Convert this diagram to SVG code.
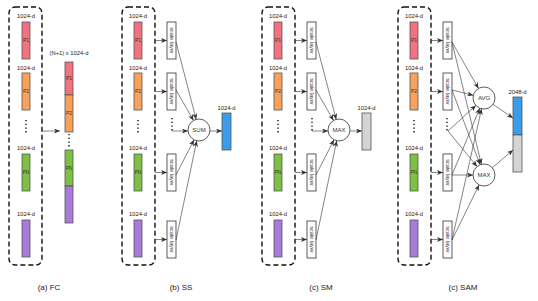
<svg xmlns="http://www.w3.org/2000/svg" width="538" height="301" viewBox="0 0 538 301">
<style>
.box{fill:none;stroke:#111;stroke-width:1.4;stroke-dasharray:5,3}
.bar{stroke:#555;stroke-width:0.8}
.p1{fill:#F2727F}.p2{fill:#F9A15A}.pn{fill:#7CC143}.pu{fill:#A97BD9}.bl{fill:#3B9CEB}.gr{fill:#D4D4D4}
.lab{font-family:"Liberation Sans",Arial,sans-serif;font-size:5.8px;fill:#222;text-anchor:middle}
.in{font-family:"Liberation Sans",Arial,sans-serif;font-size:5px;fill:#333;text-anchor:middle}
.cap{font-family:"Liberation Sans",Arial,sans-serif;font-size:8px;fill:#222;text-anchor:middle}
.sl{fill:#fff;stroke:#333;stroke-width:0.8}
.slt{font-family:"Liberation Sans",Arial,sans-serif;font-size:5.6px;fill:#333;text-anchor:middle}
.op{fill:#fff;stroke:#333;stroke-width:0.8}
.opt{font-family:"Liberation Sans",Arial,sans-serif;font-size:6px;fill:#333;text-anchor:middle}
.dots{stroke:#111;stroke-width:1.4;stroke-dasharray:1.3,2.4;fill:none}
.c{stroke:#333;stroke-width:0.6;fill:none;marker-end:url(#ah)}
</style>
<defs>
<marker id="ah" markerUnits="userSpaceOnUse" markerWidth="6" markerHeight="5" refX="6" refY="2.5" orient="auto">
<path d="M0,0 L6,2.5 L0,5 L1.6,2.5 z" fill="#333"/>
</marker>
</defs>

<!-- Panel (a) FC -->
<g id="fc-inputs">
<rect class="box" x="9" y="7" width="33" height="258" rx="6"/>
<text class="lab" x="26" y="18">1024-d</text>
<rect class="bar p1" x="22" y="22" width="8" height="37"/>
<text class="in" x="26" y="42">P1</text>
<text class="lab" x="26" y="70">1024-d</text>
<rect class="bar p2" x="22" y="73" width="8" height="37"/>
<text class="in" x="26" y="93">P2</text>
<line class="dots" x1="26" y1="120" x2="26" y2="134"/>
<text class="lab" x="26" y="150">1024-d</text>
<rect class="bar pn" x="22" y="154" width="8" height="37"/>
<text class="in" x="26" y="174">PN</text>
<text class="lab" x="26" y="216">1024-d</text>
<rect class="bar pu" x="22" y="220" width="8" height="37"/>
</g>
<g id="fc-concat">
<text class="lab" x="69" y="55">(N+1) x 1024-d</text>
<rect class="bar p1" x="65" y="62" width="8" height="33"/>
<text class="in" x="69" y="80">P1</text>
<rect class="bar p2" x="65" y="95" width="8" height="37"/>
<text class="in" x="69" y="115">P2</text>
<line class="dots" x1="69" y1="134" x2="69" y2="148"/>
<rect class="bar pn" x="65" y="150" width="8" height="36"/>
<text class="in" x="69" y="170">PN</text>
<rect class="bar pu" x="65" y="186" width="8" height="37"/>
</g>
<text class="cap" x="49" y="290">(a) FC</text>

<!-- Panel (b) SS -->
<g id="ss-inputs">
<rect class="box" x="122" y="7" width="33" height="258" rx="6"/>
<text class="lab" x="138" y="18">1024-d</text>
<rect class="bar p1" x="134" y="22" width="8" height="37"/>
<text class="in" x="138" y="42">P1</text>
<text class="lab" x="138" y="70">1024-d</text>
<rect class="bar p2" x="134" y="73" width="8" height="37"/>
<text class="in" x="138" y="93">P2</text>
<line class="dots" x1="138" y1="120" x2="138" y2="134"/>
<text class="lab" x="138" y="150">1024-d</text>
<rect class="bar pn" x="134" y="154" width="8" height="37"/>
<text class="in" x="138" y="174">PN</text>
<text class="lab" x="138" y="216">1024-d</text>
<rect class="bar pu" x="134" y="220" width="8" height="37"/>
</g>
<g id="ss-scale">
<rect class="sl" x="167" y="22" width="9" height="37"/>
<text class="slt" transform="translate(171.5,40.5) rotate(90)" y="2">scale layer</text>
<rect class="sl" x="167" y="73" width="9" height="37"/>
<text class="slt" transform="translate(171.5,91.5) rotate(90)" y="2">scale layer</text>
<line class="dots" x1="172" y1="118" x2="172" y2="131"/>
<rect class="sl" x="167" y="154" width="9" height="37"/>
<text class="slt" transform="translate(171.5,172.5) rotate(90)" y="2">scale layer</text>
<rect class="sl" x="167" y="221" width="9" height="37"/>
<text class="slt" transform="translate(171.5,239.5) rotate(90)" y="2">scale layer</text>
</g>
<g id="ss-sum">
<circle class="op" cx="199" cy="130" r="11"/>
<text class="opt" x="199" y="132.2">SUM</text>
</g>
<g id="ss-out">
<text class="lab" x="226.5" y="110">1024-d</text>
<rect class="bar bl" x="222" y="113" width="9" height="37"/>
</g>
<text class="cap" x="181" y="290">(b) SS</text>

<!-- Panel (c) SM -->
<g id="sm-inputs">
<rect class="box" x="262" y="7" width="33" height="258" rx="6"/>
<text class="lab" x="278" y="18">1024-d</text>
<rect class="bar p1" x="274" y="22" width="8" height="37"/>
<text class="in" x="278" y="42">P1</text>
<text class="lab" x="278" y="70">1024-d</text>
<rect class="bar p2" x="274" y="73" width="8" height="37"/>
<text class="in" x="278" y="93">P2</text>
<line class="dots" x1="278" y1="120" x2="278" y2="134"/>
<text class="lab" x="278" y="150">1024-d</text>
<rect class="bar pn" x="274" y="154" width="8" height="37"/>
<text class="in" x="278" y="174">PN</text>
<text class="lab" x="278" y="216">1024-d</text>
<rect class="bar pu" x="274" y="220" width="8" height="37"/>
</g>
<g id="sm-scale">
<rect class="sl" x="307" y="22" width="9" height="37"/>
<text class="slt" transform="translate(311.5,40.5) rotate(90)" y="2">scale layer</text>
<rect class="sl" x="307" y="73" width="9" height="37"/>
<text class="slt" transform="translate(311.5,91.5) rotate(90)" y="2">scale layer</text>
<line class="dots" x1="312" y1="118" x2="312" y2="131"/>
<rect class="sl" x="307" y="154" width="9" height="37"/>
<text class="slt" transform="translate(311.5,172.5) rotate(90)" y="2">scale layer</text>
<rect class="sl" x="307" y="221" width="9" height="37"/>
<text class="slt" transform="translate(311.5,239.5) rotate(90)" y="2">scale layer</text>
</g>
<g id="sm-max">
<circle class="op" cx="339" cy="130" r="11"/>
<text class="opt" x="339" y="132.2">MAX</text>
</g>
<g id="sm-out">
<text class="lab" x="366.5" y="110">1024-d</text>
<rect class="bar gr" x="362" y="113" width="9" height="37"/>
</g>
<text class="cap" x="321" y="290">(c) SM</text>

<!-- Panel (d) SAM -->
<g id="sam-inputs">
<rect class="box" x="398" y="7" width="33" height="258" rx="6"/>
<text class="lab" x="414" y="18">1024-d</text>
<rect class="bar p1" x="410" y="22" width="8" height="37"/>
<text class="in" x="414" y="42">P1</text>
<text class="lab" x="414" y="70">1024-d</text>
<rect class="bar p2" x="410" y="73" width="8" height="37"/>
<text class="in" x="414" y="93">P2</text>
<line class="dots" x1="414" y1="120" x2="414" y2="134"/>
<text class="lab" x="414" y="150">1024-d</text>
<rect class="bar pn" x="410" y="154" width="8" height="37"/>
<text class="in" x="414" y="174">PN</text>
<text class="lab" x="414" y="216">1024-d</text>
<rect class="bar pu" x="410" y="220" width="8" height="37"/>
</g>
<g id="sam-scale">
<rect class="sl" x="443" y="22" width="9" height="37"/>
<text class="slt" transform="translate(447.5,40.5) rotate(90)" y="2">scale layer</text>
<rect class="sl" x="443" y="73" width="9" height="37"/>
<text class="slt" transform="translate(447.5,91.5) rotate(90)" y="2">scale layer</text>
<line class="dots" x1="447" y1="118" x2="447" y2="131"/>
<rect class="sl" x="443" y="154" width="9" height="37"/>
<text class="slt" transform="translate(447.5,172.5) rotate(90)" y="2">scale layer</text>
<rect class="sl" x="443" y="221" width="9" height="37"/>
<text class="slt" transform="translate(447.5,239.5) rotate(90)" y="2">scale layer</text>
</g>
<g id="sam-avg">
<circle class="op" cx="484" cy="98" r="11"/>
<text class="opt" x="484" y="100.2">AVG</text>
</g>
<g id="sam-max">
<circle class="op" cx="484" cy="175" r="11"/>
<text class="opt" x="484" y="177.2">MAX</text>
</g>
<g id="sam-out">
<text class="lab" x="517.5" y="94">2048-d</text>
<rect class="bar bl" x="513" y="97" width="9" height="38"/>
<rect class="bar gr" x="513" y="135" width="9" height="37"/>
</g>
<text class="cap" x="463" y="290">(c) SAM</text>

<g id="connectors">
<!-- a -->
<line class="c" x1="42" y1="131" x2="60" y2="131"/>
<!-- b -->
<line class="c" x1="155" y1="40.5" x2="167" y2="40.5"/>
<line class="c" x1="155" y1="91.5" x2="167" y2="91.5"/>
<line class="c" x1="155" y1="172.5" x2="167" y2="172.5"/>
<line class="c" x1="155" y1="239.5" x2="167" y2="239.5"/>
<line class="c" x1="176" y1="42" x2="196.2" y2="119.4"/>
<line class="c" x1="176" y1="90" x2="193.5" y2="120.5"/>
<line class="c" x1="172" y1="131" x2="188" y2="131"/>
<line class="c" x1="176" y1="175" x2="194" y2="139.8"/>
<line class="c" x1="176" y1="240" x2="196.7" y2="140.8"/>
<line class="c" x1="210" y1="131" x2="222" y2="131"/>
<!-- c -->
<line class="c" x1="295" y1="40.5" x2="307" y2="40.5"/>
<line class="c" x1="295" y1="91.5" x2="307" y2="91.5"/>
<line class="c" x1="295" y1="172.5" x2="307" y2="172.5"/>
<line class="c" x1="295" y1="239.5" x2="307" y2="239.5"/>
<line class="c" x1="316" y1="42" x2="336.2" y2="119.4"/>
<line class="c" x1="316" y1="90" x2="333.5" y2="120.5"/>
<line class="c" x1="312" y1="131" x2="328" y2="131"/>
<line class="c" x1="316" y1="175" x2="334" y2="139.8"/>
<line class="c" x1="316" y1="240" x2="336.7" y2="140.8"/>
<line class="c" x1="350" y1="131" x2="362" y2="131"/>
<!-- d -->
<line class="c" x1="431" y1="40.5" x2="443" y2="40.5"/>
<line class="c" x1="431" y1="91.5" x2="443" y2="91.5"/>
<line class="c" x1="431" y1="172.5" x2="443" y2="172.5"/>
<line class="c" x1="431" y1="239.5" x2="443" y2="239.5"/>
<line class="c" x1="452" y1="42" x2="478.5" y2="88.5"/>
<line class="c" x1="452" y1="90" x2="473.3" y2="95.3"/>
<line class="c" x1="448" y1="131" x2="475.9" y2="105.4"/>
<line class="c" x1="452" y1="175" x2="479.8" y2="108.2"/>
<line class="c" x1="452" y1="240" x2="481.6" y2="108.7"/>
<line class="c" x1="452" y1="42" x2="481.4" y2="164.3"/>
<line class="c" x1="452" y1="90" x2="480.1" y2="164.7"/>
<line class="c" x1="448" y1="131" x2="477" y2="166.5"/>
<line class="c" x1="452" y1="175" x2="473" y2="175"/>
<line class="c" x1="452" y1="240" x2="479.1" y2="184.9"/>
<line class="c" x1="493" y1="104.3" x2="513" y2="118"/>
<line class="c" x1="492.3" y1="167.8" x2="513" y2="150"/>
</g>
</svg>
